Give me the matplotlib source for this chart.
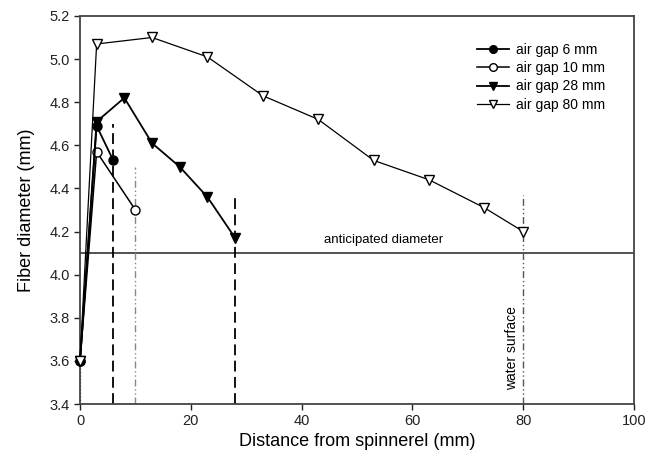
import matplotlib
matplotlib.use("Agg")
import matplotlib.pyplot as plt

plt.rcParams["font.family"] = ["Liberation Sans", "DejaVu Sans"]

# distance from spinnerel (mm) and fiber diameter (mm) per air gap
x_6 = [0, 3, 6]
y_6 = [3.60, 4.69, 4.53]
x_10 = [0, 3, 10]
y_10 = [3.60, 4.57, 4.30]
x_28 = [0, 3, 8, 13, 18, 23, 28]
y_28 = [3.60, 4.71, 4.82, 4.61, 4.50, 4.36, 4.17]
x_80 = [0, 3, 13, 23, 33, 43, 53, 63, 73, 80]
y_80 = [3.60, 5.07, 5.10, 5.01, 4.83, 4.72, 4.53, 4.44, 4.31, 4.20]

# water surface markers: position and top of the drop line
gap_pos = [6, 10, 28, 80]
gap_top = [4.70, 4.50, 4.38, 4.37]
anticipated = 4.1

fig = plt.figure(figsize=(6.58, 4.62), dpi=100)
ax = fig.add_axes([0.1216, 0.1255, 0.842, 0.84])

ax.axhline(anticipated, color="#444444", lw=1.3)
ax.text(44, anticipated + 0.035, "anticipated diameter", fontsize=9.5, ha="left", va="bottom")

ax.vlines(gap_pos[0], 3.4, gap_top[0], colors="black", linestyles=(0, (6, 3)), lw=1.3)
ax.vlines(gap_pos[1], 3.4, gap_top[1], colors="#888888", linestyles=(0, (5, 2, 1, 2, 1, 2)), lw=1.0)
ax.vlines(gap_pos[2], 3.4, gap_top[2], colors="black", linestyles=(0, (6, 3)), lw=1.3)
ax.vlines(gap_pos[3], 3.4, gap_top[3], colors="#555555", linestyles=(0, (5, 2, 1, 2, 1, 2)), lw=1.0)
ax.vlines(0, 3.4, 3.6, colors="#555555", linestyles=(0, (1, 1.5)), lw=1.0)
ax.text(79.3, 3.465, "water surface", rotation=90, fontsize=10, ha="right", va="bottom")

ax.plot(x_28, y_28, color="black", lw=1.3, marker="v", ms=7, mfc="black", mec="black",
        label="air gap 28 mm", zorder=4, clip_on=False)
ax.plot(x_10, y_10, color="black", lw=1.1, marker="o", ms=6.5, mfc="white", mec="black",
        label="air gap 10 mm", zorder=5, clip_on=False)
ax.plot(x_6, y_6, color="black", lw=1.3, marker="o", ms=6.5, mfc="black", mec="black",
        label="air gap 6 mm", zorder=6, clip_on=False)
ax.plot(x_80, y_80, color="black", lw=0.9, marker="v", ms=7.5, mfc="white", mec="black",
        label="air gap 80 mm", zorder=7, clip_on=False)

handles, labels = ax.get_legend_handles_labels()
order = [2, 1, 0, 3]
ax.legend([handles[i] for i in order], [labels[i] for i in order], loc="upper right",
          bbox_to_anchor=(0.965, 0.955), frameon=False, fontsize=10, handlelength=2.3,
          handletextpad=0.5, labelspacing=0.3, borderaxespad=0.3, markerscale=0.85)

ax.set_xlim(0, 100)
ax.set_ylim(3.4, 5.2)
ax.set_xticks([0, 20, 40, 60, 80, 100])
ax.set_yticks([3.4, 3.6, 3.8, 4.0, 4.2, 4.4, 4.6, 4.8, 5.0, 5.2])
ax.set_yticklabels([f"{v:.1f}" for v in ax.get_yticks()])
ax.tick_params(direction="out", length=4, width=1, labelsize=10.5, colors="#222222")
for side in ax.spines.values():
    side.set_color("#444444")
    side.set_linewidth(1.3)

ax.set_xlabel("Distance from spinnerel (mm)", fontsize=13, labelpad=3)
ax.set_ylabel("Fiber diameter (mm)", fontsize=13, labelpad=10)

fig.savefig("out.png", dpi=100)
